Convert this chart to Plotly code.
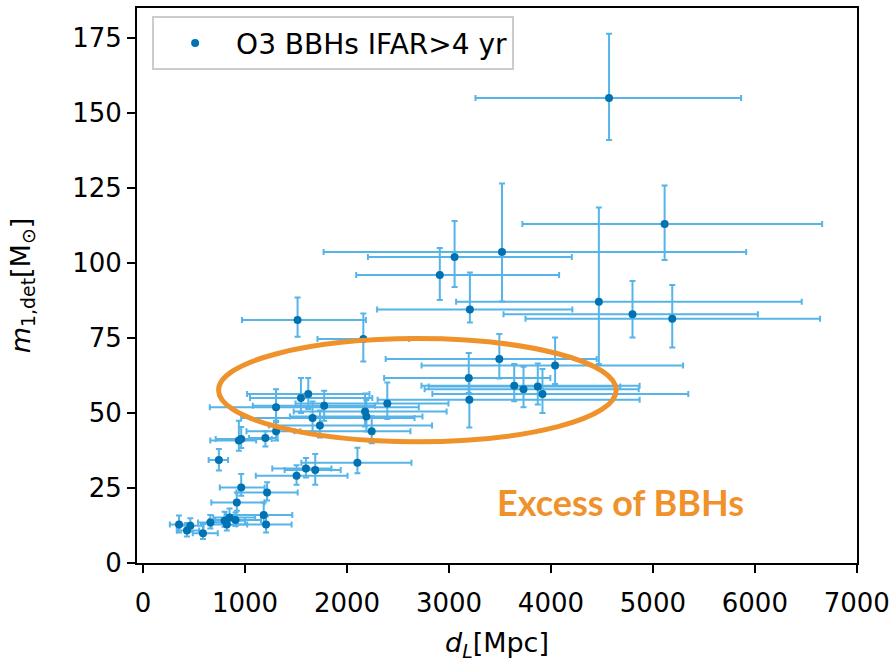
import plotly.graph_objects as go

# Luminosity distance [Mpc] and detector-frame primary mass [Msun], with asymmetric errors
dL = [4570, 5115, 3520, 3055, 2910, 3205, 4470, 4800, 5190, 1515,
      2160, 3494, 4041, 3194, 3200, 3640, 3731, 3871, 3917, 2395,
      2177, 2190, 2242, 1548, 1620, 1304, 1776, 1662, 1734, 1304,
      939, 962, 1199, 743, 1505, 1597, 1688, 2102, 352, 430,
      587, 659, 799, 848, 821, 906, 919, 962, 1216, 1183,
      1206, 463]
dL_minus = [1310, 1395, 1750, 850, 820, 910, 1400, 1265, 1440, 545,
            450, 1115, 1310, 830, 900, 910, 970, 1070, 1080, 900,
            700, 750, 700, 500, 600, 650, 700, 700, 500, 290,
            280, 250, 160, 100, 400, 330, 300, 550, 90, 100,
            100, 120, 150, 160, 150, 200, 250, 210, 300, 370,
            290, 100]
dL_plus = [1295, 1545, 2395, 1150, 1170, 1005, 1990, 1230, 1450, 670,
           450, 955, 1255, 800, 1670, 1230, 1130, 810, 1430, 600,
           800, 550, 380, 700, 600, 1400, 500, 1000, 1100, 180,
           170, 300, 120, 90, 500, 250, 250, 530, 120, 120,
           145, 150, 200, 250, 200, 250, 270, 230, 300, 280,
           250, 130]
m1 = [155.0, 113.0, 103.7, 102.0, 96.0, 84.5, 87.1, 82.9, 81.4, 81.0,
      74.7, 68.0, 65.8, 61.7, 54.4, 59.1, 57.9, 58.8, 56.3, 53.2,
      50.5, 48.8, 43.9, 55.0, 56.3, 51.9, 52.4, 48.3, 45.8, 43.9,
      40.8, 41.3, 41.7, 34.3, 29.1, 31.5, 31.0, 33.4, 12.8, 10.8,
      9.9, 13.5, 14.1, 15.2, 12.8, 14.3, 20.2, 25.2, 23.5, 16.0,
      12.8, 12.4]
m1_minus = [14.0, 12.0, 16.5, 10.0, 8.3, 4.3, 20.8, 7.7, 9.6, 5.6,
            7.5, 6.5, 6.1, 5.0, 9.2, 5.2, 6.0, 6.0, 6.3, 5.2,
            5.0, 5.0, 4.0, 5.0, 5.0, 5.0, 5.0, 4.5, 4.0, 3.1,
            3.4, 3.0, 2.9, 3.5, 3.0, 3.0, 4.9, 3.5, 2.6, 2.0,
            1.9, 2.0, 2.0, 2.5, 2.0, 2.0, 2.8, 2.8, 2.7, 3.0,
            2.6, 2.0]
m1_plus = [21.4, 12.8, 22.8, 12.0, 9.0, 12.3, 31.4, 11.1, 11.3, 7.5,
           8.5, 8.3, 9.4, 8.3, 7.0, 7.2, 7.5, 7.7, 8.4, 7.0,
           6.0, 5.5, 5.0, 6.7, 5.4, 6.0, 5.0, 5.5, 5.0, 3.5,
           6.6, 4.0, 2.2, 3.7, 3.5, 3.5, 5.3, 5.0, 3.0, 2.5,
           3.1, 2.5, 3.0, 3.0, 2.5, 2.5, 3.3, 4.5, 3.4, 4.2,
           2.8, 2.5]

x_ticks = [0, 1000, 2000, 3000, 4000, 5000, 6000, 7000]
y_ticks = [0, 25, 50, 75, 100, 125, 150, 175]

ERR = "#56B4E9"
MK = "#0072B2"
ORANGE = "#F0922B"

fig = go.Figure()
fig.add_trace(go.Scatter(
    x=dL, y=m1, mode="markers",
    name="O3 BBHs IFAR>4 yr",
    marker=dict(color=MK, size=8),
    error_x=dict(type="data", symmetric=False, array=dL_plus, arrayminus=dL_minus,
                 color=ERR, thickness=2, width=3),
    error_y=dict(type="data", symmetric=False, array=m1_plus, arrayminus=m1_minus,
                 color=ERR, thickness=2, width=3),
))

# Ellipse highlighting the excess
fig.add_shape(type="circle", xref="x", yref="y",
              x0=740, x1=4640, y0=40.4, y1=74.8,
              line=dict(color=ORANGE, width=5), layer="above")

fig.add_annotation(x=4680, y=20.5, xref="x", yref="y",
                   text="<b>Excess of BBHs</b>", showarrow=False,
                   font=dict(family="Lato", size=36, color=ORANGE))

axis_common = dict(showline=True, mirror=True, linecolor="black", linewidth=2,
                   ticks="outside", ticklen=8, tickwidth=2, tickcolor="black",
                   showgrid=False, zeroline=False, automargin=False,
                   tickfont=dict(family="DejaVu Sans", size=26, color="black"))

fig.update_xaxes(range=[-60, 7002], tickvals=x_ticks, ticktext=[str(v) for v in x_ticks],
                 ticklabelstandoff=8,
                 title=dict(text="<i>d</i><sub><i>L</i></sub>[Mpc]",
                            font=dict(family="DejaVu Sans", size=27, color="black"),
                            standoff=20),
                 **axis_common)
fig.update_yaxes(range=[0, 185], tickvals=y_ticks, ticktext=[str(v) for v in y_ticks],
                 title=dict(text="<i>m</i><sub>1,det</sub>[M<sub>⊙</sub>]",
                            font=dict(family="DejaVu Sans", size=27, color="black"),
                            standoff=34),
                 **axis_common)

fig.update_layout(
    width=895, height=662,
    margin=dict(l=137, r=38, t=8, b=99),
    plot_bgcolor="white", paper_bgcolor="white",
    showlegend=True,
    legend=dict(x=0.021, y=0.985, xanchor="left", yanchor="top",
                bgcolor="white", bordercolor="#cccccc", borderwidth=2,
                font=dict(family="DejaVu Sans", size=28, color="black"),
                itemwidth=72),
)

fig.write_html("out.html")
